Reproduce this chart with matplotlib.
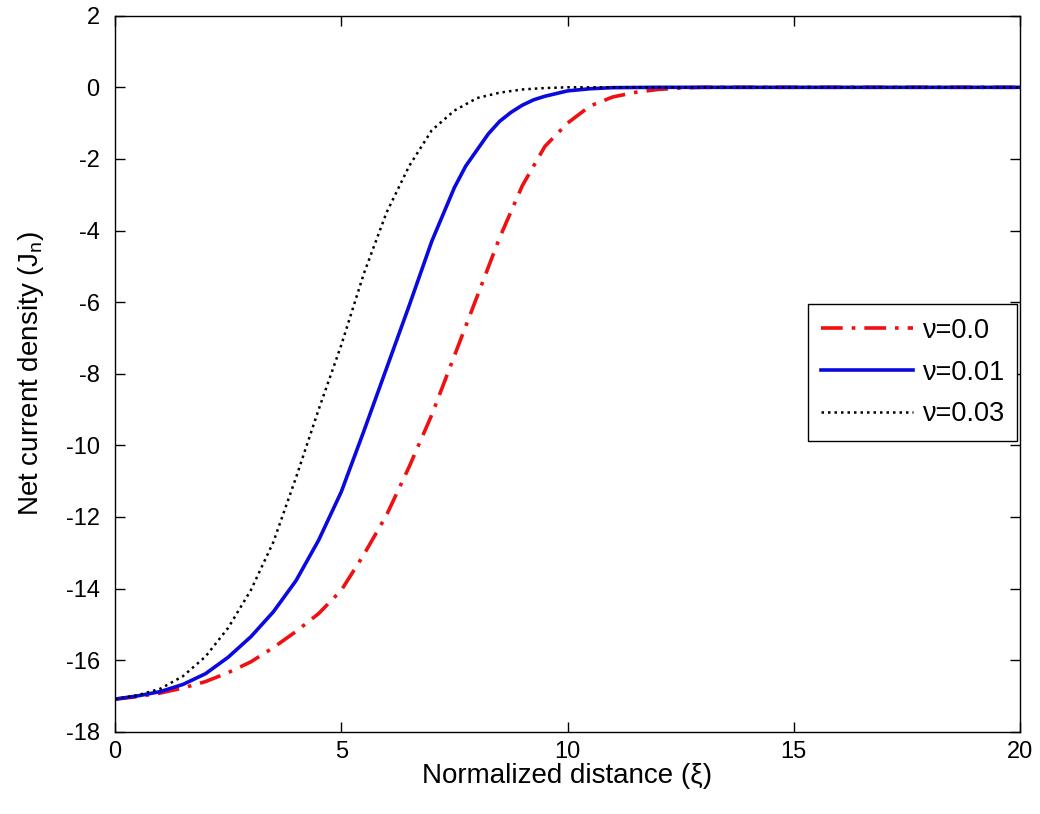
import matplotlib
matplotlib.use("Agg")
import matplotlib.pyplot as plt

plt.rcParams['font.family'] = ['Liberation Sans', 'DejaVu Sans']
plt.rcParams['mathtext.fontset'] = 'custom'
plt.rcParams['mathtext.rm'] = 'Liberation Sans'
plt.rcParams['mathtext.it'] = 'Liberation Sans'
plt.rcParams['axes.unicode_minus'] = False

# nu = 0.0 (red dash-dot)
x_red = [0, 0.5, 1.0, 1.5, 2.0, 2.5, 3.0, 3.5, 4.0, 4.5, 5.0, 5.5, 6.0, 6.5, 7.0,
         7.5, 8.0, 8.5, 9.0, 9.5, 10.0, 10.5, 11.0, 11.5, 12.0, 12.5, 13.0, 20.0]
y_red = [-17.09, -17.02, -16.92, -16.78, -16.6, -16.35, -16.05, -15.65, -15.2, -14.7,
         -14.05, -13.05, -11.95, -10.6, -9.15, -7.5, -5.85, -4.2, -2.75, -1.65, -1.0,
         -0.52, -0.27, -0.14, -0.06, -0.02, 0.0, 0.0]

# nu = 0.01 (blue solid)
x_blue = [0, 0.5, 1.0, 1.5, 2.0, 2.5, 3.0, 3.5, 4.0, 4.5, 5.0, 5.5, 6.0, 6.5, 7.0,
          7.5, 7.75, 8.0, 8.25, 8.5, 8.75, 9.0, 9.25, 9.5, 10.0, 10.5, 11.0, 12.0, 20.0]
y_blue = [-17.09, -17.0, -16.88, -16.68, -16.38, -15.92, -15.35, -14.65, -13.78, -12.65,
          -11.3, -9.6, -7.85, -6.1, -4.3, -2.8, -2.2, -1.75, -1.3, -0.95, -0.7, -0.5,
          -0.35, -0.25, -0.1, -0.04, -0.01, 0.0, 0.0]

# nu = 0.03 (black dotted)
x_black = [0, 0.5, 1.0, 1.5, 2.0, 2.5, 3.0, 3.5, 4.0, 4.5, 5.0, 5.5, 6.0, 6.5, 7.0,
           7.5, 8.0, 8.5, 9.0, 9.5, 10.0, 20.0]
y_black = [-17.09, -16.98, -16.8, -16.45, -15.9, -15.1, -14.05, -12.7, -10.9, -9.0,
           -7.2, -5.2, -3.5, -2.2, -1.2, -0.65, -0.3, -0.15, -0.06, -0.02, 0.0, 0.0]

labels = ['\u03bd=0.0', '\u03bd=0.01', '\u03bd=0.03']
x_ticks = [0, 5, 10, 15, 20]
y_ticks = [-18, -16, -14, -12, -10, -8, -6, -4, -2, 0, 2]

fig = plt.figure(figsize=(10.4, 8.14), dpi=100)
ax = fig.add_axes([0.1106, 0.1011, 0.8702, 0.8796])

ax.plot(x_red, y_red, color='#f01010', linestyle=(0, (6, 2.5, 1, 2.5)), linewidth=2.6, label=labels[0])
ax.plot(x_blue, y_blue, color='#0a0ae0', linestyle='-', linewidth=2.6, label=labels[1])
ax.plot(x_black, y_black, color='black', linestyle=(0, (1, 1.6)), linewidth=1.8, label=labels[2])

ax.set_xlim(0, 20)
ax.set_ylim(-18, 2)
ax.set_xticks(x_ticks)
ax.set_yticks(y_ticks)
ax.tick_params(direction='in', top=True, right=True, length=7, width=1, labelsize=17)
ax.tick_params(axis='x', pad=7)
ax.tick_params(axis='y', pad=11)
for s in ax.spines.values():
    s.set_linewidth(1.0)

ax.set_xlabel('Normalized distance (\u03be)', fontsize=20, labelpad=0)
ax.set_ylabel('Net current density (J$_{\\mathregular{n}}$)', fontsize=20, labelpad=14)

leg = ax.legend(loc='upper right', bbox_to_anchor=(0.997, 0.597), borderaxespad=0,
                fancybox=False, edgecolor='black', fontsize=19.5, handlelength=3.4,
                handletextpad=0.3, framealpha=1, borderpad=0.5, labelspacing=0.58)
leg.get_frame().set_linewidth(1.0)

fig.savefig('out.png', dpi=100)
